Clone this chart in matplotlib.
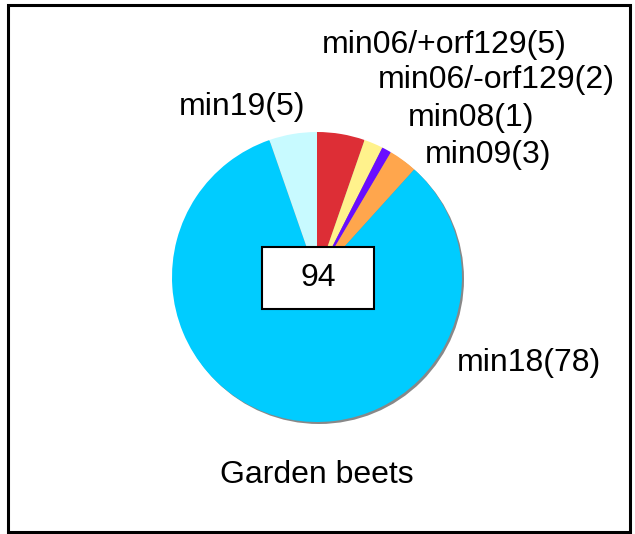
import matplotlib
matplotlib.use("Agg")
import matplotlib.pyplot as plt
from matplotlib.patches import Rectangle, Circle

categories = ["min06/+orf129", "min06/-orf129", "min08", "min09", "min18", "min19"]
counts = [5, 2, 1, 3, 78, 5]
colors = ["#DD2E36", "#FFF28C", "#6A0DFF", "#FFA64D", "#00CCFF", "#C8FAFF"]
title = "Garden beets"

plt.rcParams['font.family'] = ['Liberation Sans', 'DejaVu Sans']

W, H = 635, 534
fig = plt.figure(figsize=(W / 100, H / 100), dpi=100)
ax = fig.add_axes([0, 0, 1, 1])

cx, cy, r = 317, H - 277, 145

# shadow
ax.add_patch(Circle((cx + 2, cy - 2), r, facecolor="#888888", edgecolor="none", zorder=0))

ax.pie(counts, colors=colors, startangle=90, counterclock=False,
       center=(cx, cy), radius=r, wedgeprops=dict(linewidth=0), frame=True)
ax.set_xlim(0, W)
ax.set_ylim(0, H)
ax.set_aspect('equal')
ax.axis('off')

labels = [f"{c}({n})" for c, n in zip(categories, counts)]
fs = 23
label_pos = [
    (322, 45, 'left'),
    (378, 80, 'left'),
    (408, 118, 'left'),
    (425, 155, 'left'),
    (457, 363, 'left'),
    (305, 107, 'right'),
]
for lab, (x, y, ha) in zip(labels, label_pos):
    ax.text(x, H - y, lab, ha=ha, va='center', fontsize=fs, color='black')

# center box with total
ax.add_patch(Rectangle((262, H - 309), 112, 62, facecolor='white', edgecolor='black', linewidth=1.5, zorder=5))
ax.text(318, H - 278, str(sum(counts)), ha='center', va='center', fontsize=fs, zorder=6)

ax.text(cx, H - 475, title, ha='center', va='center', fontsize=fs)

# outer frame
ax.add_patch(Rectangle((7.5, H - 532), 622, 527, facecolor='none', edgecolor='black', linewidth=2.2, zorder=7))

fig.savefig("out.png", dpi=100)
